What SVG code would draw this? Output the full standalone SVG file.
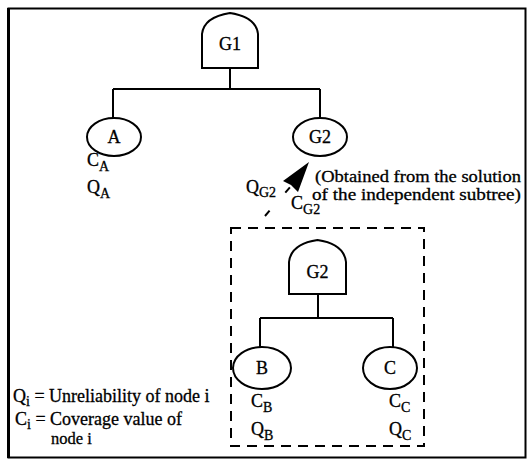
<svg xmlns="http://www.w3.org/2000/svg" width="528" height="460" viewBox="0 0 528 460">
<style>
text{font-family:"Liberation Serif","Times New Roman",serif;font-size:18px;fill:#000;stroke:#000;stroke-width:0.3}
.sub{font-size:14px}
.sm{font-size:16.5px}
.ln{stroke:#000;stroke-width:2;fill:none}
.nd{stroke:#000;stroke-width:2;fill:#fff}
.c{text-anchor:middle}
</style>
<rect x="8.5" y="8.5" width="517" height="449" fill="none" stroke="#000" stroke-width="2"/>
<line x1="8.5" y1="8" x2="8.5" y2="458" stroke="#000" stroke-width="3"/>
<g id="connectors">
<path class="ln" d="M230,68 V89 M113,89 H320 M113,89 V118 M320,89 V118"/>
<path class="ln" d="M318,294 V318 M260,318 H393 M260,318 V347 M393,318 V347"/>
<line x1="265" y1="216" x2="291" y2="186" class="ln" stroke-dasharray="7 24"/>
<polygon points="309,162 298,192 291,185 283,181" fill="#000"/>
</g>
<g id="G1">
<path class="nd" d="M202,68 V34 Q204,17 230,13 Q256,17 258,34 V68 Z"/>
<text x="230" y="50" class="c">G1</text>
</g>
<g id="A">
<ellipse class="nd" cx="114" cy="137" rx="27" ry="19"/>
<text x="114" y="143" class="c">A</text>
<text x="87" y="166">C<tspan class="sub" dy="5">A</tspan></text>
<text x="87" y="193">Q<tspan class="sub" dy="5">A</tspan></text>
</g>
<g id="G2top">
<ellipse class="nd" cx="320" cy="137" rx="27" ry="19"/>
<text x="320" y="143" class="c">G2</text>
</g>
<g id="labels">
<text x="246" y="193">Q<tspan class="sub" dy="4">G2</tspan></text>
<text x="291" y="209">C<tspan class="sub" dy="5">G2</tspan></text>
<text x="315" y="182" class="sm" textLength="206" lengthAdjust="spacingAndGlyphs">(Obtained from the solution</text>
<text x="312" y="200" class="sm" textLength="209" lengthAdjust="spacingAndGlyphs">of the independent subtree)</text>
</g>
<g id="subtree">
<rect x="231" y="228" width="193" height="218" fill="none" stroke="#000" stroke-width="2" stroke-dasharray="10 7"/>
</g>
<g id="G2">
<path class="nd" d="M289,294 V262 Q291,244 317.5,240 Q344,244 346,262 V294 Z"/>
<text x="317.5" y="278" class="c">G2</text>
</g>
<g id="B">
<ellipse class="nd" cx="262" cy="368" rx="29" ry="21"/>
<text x="262" y="374" class="c">B</text>
<text x="251" y="407">C<tspan class="sub" dy="5">B</tspan></text>
<text x="251" y="435">Q<tspan class="sub" dy="5">B</tspan></text>
</g>
<g id="C">
<ellipse class="nd" cx="390" cy="368" rx="27" ry="21"/>
<text x="390" y="374" class="c">C</text>
<text x="389" y="407">C<tspan class="sub" dy="5">C</tspan></text>
<text x="389" y="435">Q<tspan class="sub" dy="5">C</tspan></text>
</g>
<g id="legend">
<text x="13" y="402">Q<tspan class="sub" dy="4">i</tspan><tspan dy="-4"> = Unreliability of node i</tspan></text>
<text x="15" y="425">C<tspan class="sub" dy="4">i</tspan><tspan dy="-4"> = Coverage value of</tspan></text>
<text x="51" y="444" class="sm">node i</text>
</g>
</svg>
